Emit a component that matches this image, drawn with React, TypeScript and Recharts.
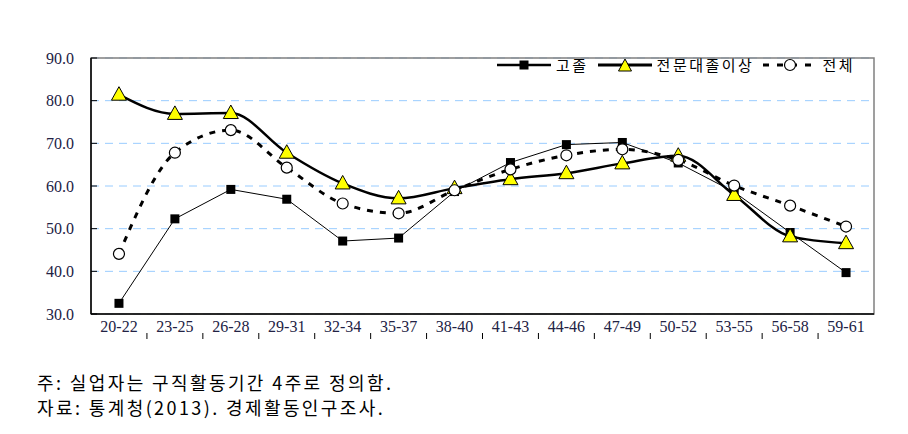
import React from "react";
import {
  LineChart, Line, XAxis, YAxis, CartesianGrid, Legend, ReferenceArea,
} from "recharts";

const categories = [
  "20-22", "23-25", "26-28", "29-31", "32-34", "35-37", "38-40",
  "41-43", "44-46", "47-49", "50-52", "53-55", "56-58", "59-61",
];
const goJol = [32.5, 52.3, 59.2, 56.9, 47.1, 47.8, 58.7, 65.5, 69.7, 70.2, 65.4, 58.6, 49.1, 39.7];
const junmun = [81.4, 76.9, 77.1, 67.8, 60.6, 57.1, 59.5, 61.6, 63.0, 65.3, 67.1, 57.9, 48.2, 46.6];
const total = [44.1, 67.8, 73.1, 64.3, 55.9, 53.6, 59.0, 63.9, 67.2, 68.6, 66.1, 60.1, 55.4, 50.5];
const yTicks = [30, 40, 50, 60, 70, 80, 90];

const data = categories.map((c, i) => ({
  i,
  name: c,
  goJol: goJol[i],
  junmun: junmun[i],
  total: total[i],
}));

const labelIdx = categories.map((_, i) => i);
const boundaryIdx = categories.slice(1).map((_, i) => i + 0.5);

const KR = "'Noto Sans CJK KR', sans-serif";
const NUM = "'Liberation Serif', 'DejaVu Serif', serif";

const SquareDot = (p: any) => (
  <rect key={`sq-${p.index}`} x={p.cx - 4.5} y={p.cy - 4.5} width={9} height={9} fill="#000" />
);
const TriDot = (p: any) => (
  <polygon
    key={`tr-${p.index}`}
    points={`${p.cx},${p.cy - 8} ${p.cx - 7.5},${p.cy + 5.5} ${p.cx + 7.5},${p.cy + 5.5}`}
    fill="#FFFF00"
    stroke="#000"
    strokeWidth={1}
  />
);
const CircleDot = (p: any) => (
  <circle key={`ci-${p.index}`} cx={p.cx} cy={p.cy} r={5.5} fill="#fff" stroke="#000" strokeWidth={1.2} />
);

const NumTick = (p: any) => (
  <text
    x={p.x} y={p.y} dy={p.dy ?? "0.355em"} textAnchor={p.textAnchor}
    fill="#222244" fontSize={p.fontSize} style={{ fontFamily: NUM }}
  >
    {p.tickFormatter ? p.tickFormatter(p.payload.value) : p.payload.value}
  </text>
);

function LegendBox() {
  const item = (kind: string, label: string) => (
    <span style={{ display: "inline-flex", alignItems: "center", marginRight: 9 }}>
      <svg width={54} height={16}>
        <line
          x1={0} y1={8} x2={54} y2={8} stroke="#000" strokeWidth={kind === "sq" ? 2.5 : 3}
          strokeDasharray={kind === "ci" ? "6 8" : undefined}
        />
        {kind === "sq" && <rect x={22.5} y={3.5} width={9} height={9} fill="#000" />}
        {kind === "tr" && (
          <polygon points="27,2 20.5,14 33.5,14" fill="#FFFF00" stroke="#000" strokeWidth={1} />
        )}
        {kind === "ci" && <circle cx={27} cy={8} r={5.5} fill="#fff" stroke="#000" strokeWidth={1.2} />}
      </svg>
      <span style={{ marginLeft: 5, fontFamily: KR, fontSize: 15, letterSpacing: 2.5, color: "#000" }}>
        {label}
      </span>
    </span>
  );
  return (
    <div style={{ display: "flex", whiteSpace: "nowrap" }}>
      {item("sq", "고졸")}
      {item("tr", "전문대졸이상")}
      {item("ci", "전체")}
    </div>
  );
}

export default function App() {
  return (
    <div style={{ position: "absolute", left: 0, top: 0, width: 908, height: 434, background: "#fff" }}>
      <LineChart width={908} height={340} data={data} margin={{ top: 37, right: 34, left: 31, bottom: 0 }}>
        <CartesianGrid vertical={false} stroke="#99CCFF" strokeDasharray="8 6" />
        <ReferenceArea x1={-0.5} x2={13.5} y1={30} y2={90} fill="none" stroke="#808080" strokeWidth={1.5} />
        <XAxis
          xAxisId="b"
          type="number"
          dataKey="i"
          domain={[-0.5, 13.5]}
          ticks={boundaryIdx}
          interval={0}
          tickFormatter={() => ""}
          tickSize={-6}
          axisLine={false}
          tickLine={{ stroke: "#000" }}
          height={1}
        />
        <XAxis
          type="number"
          dataKey="i"
          domain={[-0.5, 13.5]}
          ticks={labelIdx}
          interval={0}
          tickFormatter={(v: number) => categories[v]}
          tickLine={false}
          tickSize={0}
          tickMargin={7}
          axisLine={{ stroke: "#000", strokeWidth: 1.5 }}
          height={25}
          tick={<NumTick fontSize={16} dy="0.71em" />}
        />
        <YAxis
          domain={[30, 90]}
          ticks={yTicks}
          interval={0}
          width={60}
          tickFormatter={(v: number) => v.toFixed(1)}
          tickSize={-6}
          tickMargin={23}
          axisLine={{ stroke: "#000", strokeWidth: 1.5 }}
          tickLine={{ stroke: "#000" }}
          tick={<NumTick fontSize={16} />}
        />
        <Legend
          verticalAlign="top"
          align="right"
          content={() => <LegendBox />}
          wrapperStyle={{ top: 54, left: 497, width: 390 }}
        />
        <Line
          dataKey="goJol" name="고졸" type="linear" stroke="#000" strokeWidth={1}
          dot={SquareDot} isAnimationActive={false}
        />
        <Line
          dataKey="junmun" name="전문대졸이상" type="monotone" stroke="#000" strokeWidth={2.5}
          dot={TriDot} isAnimationActive={false}
        />
        <Line
          dataKey="total" name="전체" type="monotone" stroke="#000" strokeWidth={3}
          strokeDasharray="6 7" dot={CircleDot} isAnimationActive={false}
        />
      </LineChart>
      <div style={{ position: "absolute", left: 37, top: 370, fontFamily: KR, fontSize: 18, letterSpacing: 2.4, color: "#000", lineHeight: "25px" }}>
        <div>주: 실업자는 구직활동기간 4주로 정의함.</div>
        <div>자료: 통계청(2013). 경제활동인구조사.</div>
      </div>
    </div>
  );
}
